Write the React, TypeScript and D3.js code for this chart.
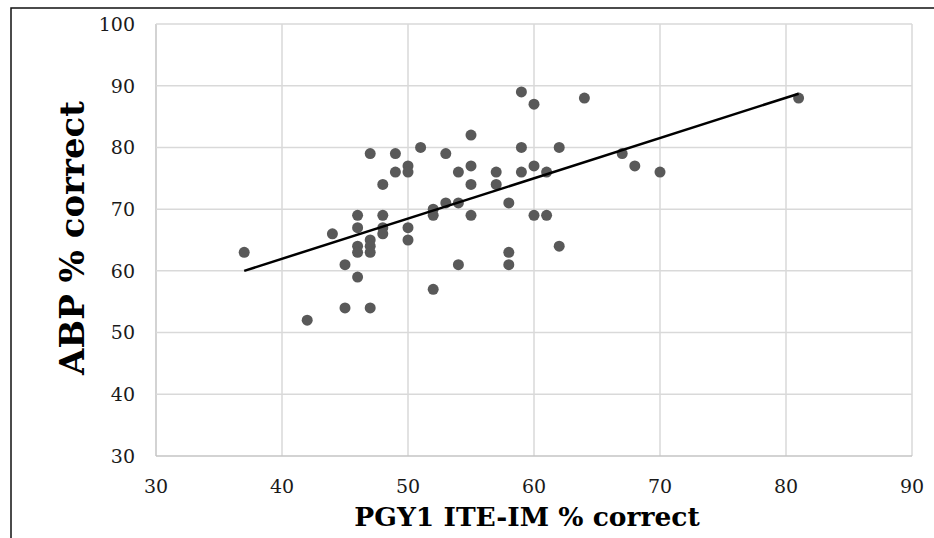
import React, { useEffect, useRef } from 'react';
import * as d3 from 'd3';

// PGY1 ITE-IM % correct vs ABP % correct
const iteScores = [
  37, 42, 44, 45, 45, 46, 46, 46, 46, 46, 47, 47, 47, 47, 47, 48, 48, 48, 48,
  49, 49, 50, 50, 50, 50, 51, 52, 52, 52, 53, 53, 54, 54, 54, 55, 55, 55, 55,
  57, 57, 58, 58, 58, 59, 59, 59, 60, 60, 60, 61, 61, 62, 62, 64, 67, 68, 70, 81,
];
const abpScores = [
  63, 52, 66, 61, 54, 69, 67, 64, 63, 59, 79, 65, 64, 63, 54, 74, 69, 67, 66,
  79, 76, 77, 76, 67, 65, 80, 70, 69, 57, 79, 71, 76, 71, 61, 82, 77, 74, 69,
  76, 74, 71, 63, 61, 89, 80, 76, 87, 77, 69, 76, 69, 80, 64, 88, 79, 77, 76, 88,
];

// linear trendline end points
const trendX = [37, 81];
const trendY = [60, 88.7];

const xTicks = [30, 40, 50, 60, 70, 80, 90];
const yTicks = [30, 40, 50, 60, 70, 80, 90, 100];

const xTitle = 'PGY1 ITE-IM % correct';
const yTitle = 'ABP % correct';

export default function App() {
  const svgRef = useRef<SVGSVGElement>(null);

  useEffect(() => {
    if (!svgRef.current) return;
    const width = 934;
    const height = 538;
    const plot = { left: 156, right: 912, top: 24, bottom: 456 };

    const svg = d3.select(svgRef.current);
    svg.selectAll('*').remove();

    svg.append('rect').attr('width', width).attr('height', height).attr('fill', '#fff');

    // outer frame (top and left edges visible)
    svg
      .append('path')
      .attr('d', `M11,${height} L11,8 L${width},8`)
      .attr('fill', 'none')
      .attr('stroke', '#111')
      .attr('stroke-width', 1.5);

    const x = d3.scaleLinear().domain([30, 90]).range([plot.left, plot.right]);
    const y = d3.scaleLinear().domain([30, 100]).range([plot.bottom, plot.top]);

    const g = svg.append('g');

    // gridlines
    g.selectAll('.vgrid')
      .data(xTicks)
      .enter()
      .append('line')
      .attr('x1', (d) => x(d))
      .attr('x2', (d) => x(d))
      .attr('y1', plot.top)
      .attr('y2', plot.bottom)
      .attr('stroke', (d) => (d === 30 ? '#c4c4c4' : '#d9d9d9'))
      .attr('stroke-width', 1.5);

    g.selectAll('.hgrid')
      .data(yTicks)
      .enter()
      .append('line')
      .attr('x1', plot.left)
      .attr('x2', plot.right)
      .attr('y1', (d) => y(d))
      .attr('y2', (d) => y(d))
      .attr('stroke', (d) => (d === 30 ? '#c4c4c4' : '#d9d9d9'))
      .attr('stroke-width', 1.5);

    const tickFont = '"DejaVu Serif", serif';

    g.selectAll('.ylab')
      .data(yTicks)
      .enter()
      .append('text')
      .attr('x', 135)
      .attr('y', (d) => y(d))
      .attr('dy', '0.36em')
      .attr('text-anchor', 'end')
      .attr('font-family', tickFont)
      .attr('font-size', 19)
      .attr('fill', '#1a1a1a')
      .text((d) => d);

    g.selectAll('.xlab')
      .data(xTicks)
      .enter()
      .append('text')
      .attr('x', (d) => x(d))
      .attr('y', 493)
      .attr('text-anchor', 'middle')
      .attr('font-family', tickFont)
      .attr('font-size', 19)
      .attr('fill', '#1a1a1a')
      .text((d) => d);

    // points
    const pts = iteScores.map((v, i) => ({ x: v, y: abpScores[i] }));
    g.selectAll('circle')
      .data(pts)
      .enter()
      .append('circle')
      .attr('cx', (d) => x(d.x))
      .attr('cy', (d) => y(d.y))
      .attr('r', 5.5)
      .attr('fill', '#595959');

    // trendline
    const line = d3
      .line<number>()
      .x((d) => x(d))
      .y((_d, i) => y(trendY[i]));
    g.append('path')
      .datum(trendX)
      .attr('d', line)
      .attr('fill', 'none')
      .attr('stroke', '#000')
      .attr('stroke-width', 2.5);

    // axis titles
    svg
      .append('text')
      .attr('x', 527)
      .attr('y', 526)
      .attr('text-anchor', 'middle')
      .attr('font-family', tickFont)
      .attr('font-weight', 'bold')
      .attr('font-size', 26.5)
      .attr('fill', '#000')
      .text(xTitle);

    svg
      .append('text')
      .attr('transform', 'translate(84,238) rotate(-90)')
      .attr('text-anchor', 'middle')
      .attr('font-family', tickFont)
      .attr('font-weight', 'bold')
      .attr('font-size', 34)
      .attr('fill', '#000')
      .text(yTitle);
  }, []);

  return (
    <svg
      ref={svgRef}
      width={934}
      height={538}
      style={{ position: 'absolute', left: 0, top: 0 }}
    />
  );
}
